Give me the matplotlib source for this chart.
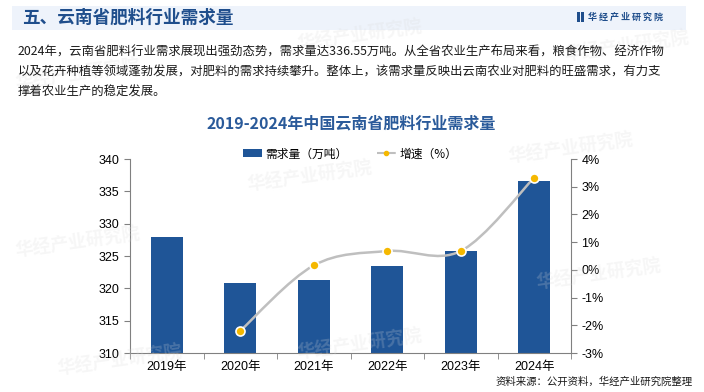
import numpy as np
import matplotlib
matplotlib.use("Agg")
import matplotlib.pyplot as plt
from matplotlib.path import Path
from matplotlib.patches import PathPatch, Rectangle
from matplotlib.lines import Line2D

plt.rcParams['font.family'] = ['Liberation Sans', 'Noto Sans CJK SC', 'DejaVu Sans']
plt.rcParams['axes.unicode_minus'] = False

# data
years = ['2019年', '2020年', '2021年', '2022年', '2023年', '2024年']
demand = [328.0, 320.8, 321.3, 323.5, 325.7, 336.55]      # 万吨
growth_years = [1, 2, 3, 4, 5]
growth = [-2.2, 0.16, 0.68, 0.68, 3.33]                   # %

header = '五、云南省肥料行业需求量'
paragraph = ['2024年，云南省肥料行业需求展现出强劲态势，需求量达336.55万吨。从全省农业生产布局来看，粮食作物、经济作物',
             '以及花卉种植等领域蓬勃发展，对肥料的需求持续攀升。整体上，该需求量反映出云南农业对肥料的旺盛需求，有力支',
             '撑着农业生产的稳定发展。']
title = '2019-2024年中国云南省肥料行业需求量'
source = '资料来源：公开资料，华经产业研究院整理'

bar_color = '#1f5597'
dark_blue = '#1f4e8c'
cjk = ['Noto Sans CJK SC', 'DejaVu Sans']

fig = plt.figure(figsize=(7.04, 3.92), dpi=100)

# header band
fig.patches.append(Rectangle((12/704, 1-30/392), 674/704, 24/392, transform=fig.transFigure,
                             facecolor='#eef3fb', edgecolor='none', zorder=0))
fig.text(22/704, 1-18/392, header, fontsize=12.7, fontweight='bold', color=dark_blue,
         family=cjk, va='center', ha='left')
fig.patches.append(Rectangle((577/704, 1-22/392), 2.5/704, 10/392, transform=fig.transFigure,
                             facecolor=dark_blue, edgecolor='none'))
fig.patches.append(Rectangle((581/704, 1-22/392), 2.5/704, 10/392, transform=fig.transFigure,
                             facecolor=dark_blue, edgecolor='none'))
fig.text(588/704, 1-17/392, ' '.join('华经产业研究院'), fontsize=6.5, fontweight='bold',
         color=dark_blue, family=cjk, va='center', ha='left')

# watermarks
for (wx, wy) in [(0.42, 0.91), (0.02, 0.81), (0.35, 0.55), (0.72, 0.62), (0.8, 0.88),
                 (0.02, 0.38), (0.42, 0.12), (0.76, 0.3), (0.08, 0.08)]:
    fig.text(wx, wy, '华经产业研究院', fontsize=13, fontweight='bold', color='#d9d9d9',
             alpha=0.22, family=cjk, rotation=8, ha='left', va='center')

# paragraph
for i, line in enumerate(paragraph):
    fig.text(18/704, 1-(52 + i*20)/392, line, fontsize=8.9, color='#1a1a1a', family=cjk,
             va='center', ha='left')

# title
fig.text(351/704, 1-123/392, title, fontsize=11.5, fontweight='bold', color='#2a5a9a',
         family=cjk, va='center', ha='center')

ax = fig.add_axes([130/704, 39/392, 441/704, 194/392])
x = np.arange(len(years))
ax.bar(x, demand, width=0.44, color=bar_color, zorder=2)
ax.set_ylim(310, 340)
ax.set_yticks(np.arange(310, 341, 5))
ax.set_xlim(-0.5, len(years) - 0.5)
ax.set_xticks(x)
ax.set_xticklabels(years)
ax.set_xticks(np.arange(-0.5, len(years), 1), minor=True)
ax.tick_params(axis='x', which='major', length=0, labelsize=9, pad=6)
ax.tick_params(axis='x', which='minor', length=4, color='#808080')
ax.tick_params(axis='y', length=4, color='#808080', labelsize=9, direction='out')
for s in ['top', 'right']:
    ax.spines[s].set_visible(False)
for s in ['left', 'bottom']:
    ax.spines[s].set_color('#808080')

ax2 = ax.twinx()
ax2.set_ylim(-3, 4)
ax2.set_yticks(np.arange(-3, 5, 1))
ax2.set_yticklabels([f'{v}%' for v in range(-3, 5)])
ax2.tick_params(axis='y', length=4, color='#808080', labelsize=9)
for s in ['top', 'left', 'bottom']:
    ax2.spines[s].set_visible(False)
ax2.spines['right'].set_color('#808080')

# smooth growth line (Catmull-Rom as cubic Bezier)
pts = np.column_stack([growth_years, growth]).astype(float)
verts = [tuple(pts[0])]
codes = [Path.MOVETO]
n = len(pts)
for i in range(n - 1):
    p0 = pts[max(i - 1, 0)]
    p1 = pts[i]
    p2 = pts[i + 1]
    p3 = pts[min(i + 2, n - 1)]
    c1 = p1 + (p2 - p0) / 6
    c2 = p2 - (p3 - p1) / 6
    verts += [tuple(c1), tuple(c2), tuple(p2)]
    codes += [Path.CURVE4] * 3
ax2.add_patch(PathPatch(Path(verts, codes), facecolor='none', edgecolor='#bfbfbf', lw=1.8, zorder=3))
ax2.plot(growth_years, growth, ls='none', marker='o', ms=6.5, mfc='#f5b800', mec='white',
         mew=1.2, zorder=4)

# legend
handles = [Rectangle((0, 0), 1, 1, facecolor=bar_color),
           Line2D([0], [0], color='#bfbfbf', ls='--', lw=1.5, marker='o', ms=3,
                  mfc='#f5b800', mec='#f5b800')]
fig.legend(handles, ['需求量（万吨）', '增速（%）'], loc='center', bbox_to_anchor=(350/704, 1-154/392),
           ncol=2, frameon=False, prop={'family': cjk, 'size': 8.5},
           handlelength=1.6, handleheight=0.7, columnspacing=2.5, handletextpad=0.3)

fig.text(693/704, 1-382/392, source, fontsize=7.5, color='#1a1a1a', family=cjk,
         va='center', ha='right')

fig.savefig('out.png', dpi=100)
